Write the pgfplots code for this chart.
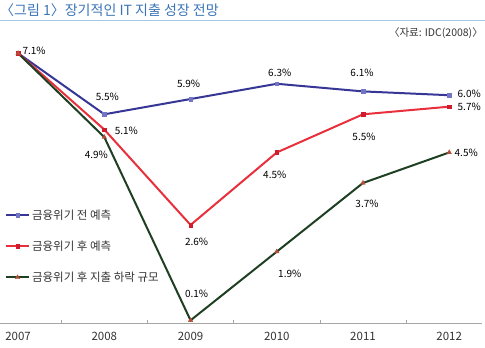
\documentclass[border=0pt]{standalone}
\usepackage{pgfplots}
\pgfplotsset{compat=1.18}
\usepackage{fontspec}
\setmainfont{Noto Sans CJK KR}
\definecolor{titleblue}{HTML}{3A74B8}
\definecolor{titleline}{HTML}{A7C8E2}
\definecolor{sblue}{HTML}{363696}
\definecolor{sbluem}{HTML}{7474C4}
\definecolor{sred}{HTML}{E8303C}
\definecolor{sredm}{HTML}{D01C2C}
\definecolor{sgreen}{HTML}{1F3F22}
\definecolor{sgreenm}{HTML}{B0503A}
\definecolor{txt}{HTML}{333333}
\begin{document}
\begin{tikzpicture}[x=1pt,y=1pt]
\path[use as bounding box] (0,0) rectangle (485,348);
\node[anchor=west, text=titleblue, font=\fontsize{14}{16}\selectfont, inner sep=0pt] at (0,338) {〈그림 1〉장기적인 IT 지출 성장 전망};
\draw[titleline, line width=1pt] (0,327.5) -- (485,327.5);
\node[anchor=east, font=\fontsize{10.5}{12}\selectfont, text=txt, inner sep=0pt] at (483,315) {〈자료: IDC(2008)〉};
\begin{axis}[
  at={(0pt,25pt)}, anchor=south west,
  scale only axis, width=482pt, height=285pt,
  xmin=-0.21, xmax=5.38, ymin=0.03, ymax=7.5,
  axis x line*=bottom, axis y line=none,
  x axis line style={color=black!35, line width=0.8pt},
  xtick={0,1,2,3,4,5},
  xticklabels={2007,2008,2009,2010,2011,2012},
  major tick length=0pt,
  minor xtick={0.5,1.5,2.5,3.5,4.5},
  minor tick length=3pt,
  tick align=inside,
  tick style={color=black!35, line width=0.6pt},
  xticklabel style={font=\fontsize{11.5}{13}\selectfont, text=txt, yshift=-6pt},
  clip=false,
  legend style={at={(0.01,0.405)}, anchor=north west, draw=none, fill=none,
    font=\fontsize{11.5}{13}\selectfont, text=txt, row sep=16pt, inner sep=0pt},
  legend cell align=left,
  legend image code/.code={\draw[mark repeat=2,mark phase=2] plot coordinates {(0pt,0pt)(11.5pt,0pt)(23pt,0pt)};},
  every node/.append style={font=\fontsize{11.5}{13}\selectfont, text=txt},
]
\addplot[sblue, line width=2pt, mark=square*, mark size=1.8pt, mark options={fill=sbluem, draw=sbluem, line width=0.4pt}]
  coordinates {(0,7.1)(1,5.5)(2,5.9)(3,6.3)(4,6.1)(5,6.0)};
\addlegendentry{금융위기 전 예측}
\addplot[sred, line width=2pt, mark=square*, mark size=1.8pt, mark options={fill=sredm, draw=sredm, line width=0.4pt}]
  coordinates {(0,7.1)(1,5.1)(2,2.6)(3,4.5)(4,5.5)(5,5.7)};
\addlegendentry{금융위기 후 예측}
\addplot[sgreen, line width=2pt, mark=triangle*, mark size=2.6pt, mark options={fill=sgreenm, draw=sgreenm, line width=0.4pt}]
  coordinates {(0,7.1)(1,4.9)(2,0.1)(3,1.9)(4,3.7)(5,4.5)};
\addlegendentry{금융위기 후 지출 하락 규모}
\node[xshift=16pt, yshift=2pt] at (axis cs:0,7.1) {7.1\%};
\node[xshift=3pt, yshift=17pt] at (axis cs:1,5.5) {5.5\%};
\node[xshift=-2pt, yshift=15pt] at (axis cs:2,5.9) {5.9\%};
\node[xshift=3pt, yshift=11pt] at (axis cs:3,6.3) {6.3\%};
\node[xshift=-1pt, yshift=19pt] at (axis cs:4,6.1) {6.1\%};
\node[xshift=20pt, yshift=1pt] at (axis cs:5,6.0) {6.0\%};
\node[xshift=22pt, yshift=-1pt] at (axis cs:1,5.1) {5.1\%};
\node[xshift=6pt, yshift=-17pt] at (axis cs:2,2.6) {2.6\%};
\node[xshift=-2pt, yshift=-22pt] at (axis cs:3,4.5) {4.5\%};
\node[xshift=1pt, yshift=-23pt] at (axis cs:4,5.5) {5.5\%};
\node[xshift=20pt, yshift=0pt] at (axis cs:5,5.7) {5.7\%};
\node[xshift=-8pt, yshift=-18pt] at (axis cs:1,4.9) {4.9\%};
\node[xshift=6pt, yshift=26pt] at (axis cs:2,0.1) {0.1\%};
\node[xshift=13pt, yshift=-22pt] at (axis cs:3,1.9) {1.9\%};
\node[xshift=4pt, yshift=-21pt] at (axis cs:4,3.7) {3.7\%};
\node[xshift=17pt, yshift=0pt] at (axis cs:5,4.5) {4.5\%};
\end{axis}
\end{tikzpicture}
\end{document}
